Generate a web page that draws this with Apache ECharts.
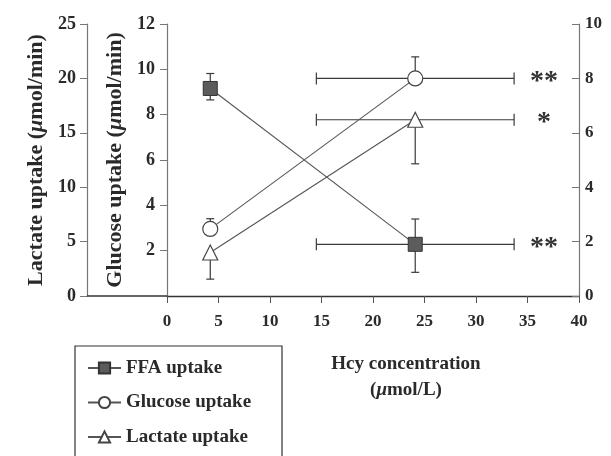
<!DOCTYPE html>
<html>
<head>
<meta charset="utf-8">
<script src="https://cdn.jsdelivr.net/npm/echarts@6/dist/echarts.min.js"></script>
<style>html,body{margin:0;padding:0;background:#fff}#c{width:611px;height:456px}</style>
</head>
<body>
<div id="c"></div>
<script>
// ---- data ----
var hcyX = [4.2, 24.1];            // Hcy concentration (µmol/L)
var hcyXErr = [0, 9.6];            // horizontal SD
var ffa = [7.63, 1.9];             // right axis
var ffaErrUp = [0.55, 0.93];
var ffaErrDown = [0.42, 1.03];
var glucose = [2.96, 9.6];         // glucose axis
var glucoseErrUp = [0.45, 0.95];
var glucoseErrDown = [0, 0];
var lactate = [4.0, 16.2];         // lactate axis
var lactateErrUp = [0, 0];
var lactateErrDown = [2.45, 4.05];
var ffaSig = ['', '**'];
var glucoseSig = ['', '**'];
var lactateSig = ['', '*'];
var sigX = 36.6;
var xTicks = {min: 0, max: 40, interval: 5};
var glucoseTicks = {min: 0, max: 12, interval: 2};
var lactateTicks = {min: 0, max: 25, interval: 5};
var ffaTicks = {min: 0, max: 10, interval: 2};

var FONT = '"Liberation Serif", "Times New Roman", serif';
var TXT = '#2a2a2a';
var LINE = '#555';
var ERR = '#3a3a3a';

function pairs(ys) { return hcyX.map(function (x, i) { return [x, ys[i]]; }); }
function errData(ys, up, down, sig) {
  return hcyX.map(function (x, i) { return [x, ys[i], up[i], down[i], hcyXErr[i], sig[i]]; });
}
function renderErr(params, api) {
  var x = api.value(0), y = api.value(1), up = api.value(2), dn = api.value(3), xe = api.value(4);
  var sig = api.value(5);
  var c = api.coord([x, y]);
  var st = {stroke: ERR, lineWidth: 1.2};
  var kids = [];
  var capW = 4, capH = 6;
  if (up > 0) {
    var t = api.coord([x, y + up]);
    kids.push({type: 'line', shape: {x1: c[0], y1: c[1], x2: t[0], y2: t[1]}, style: st});
    kids.push({type: 'line', shape: {x1: t[0] - capW, y1: t[1], x2: t[0] + capW, y2: t[1]}, style: st});
  }
  if (dn > 0) {
    var b = api.coord([x, y - dn]);
    kids.push({type: 'line', shape: {x1: c[0], y1: c[1], x2: b[0], y2: b[1]}, style: st});
    kids.push({type: 'line', shape: {x1: b[0] - capW, y1: b[1], x2: b[0] + capW, y2: b[1]}, style: st});
  }
  if (xe > 0) {
    var l = api.coord([x - xe, y]), r = api.coord([x + xe, y]);
    kids.push({type: 'line', shape: {x1: l[0], y1: l[1], x2: r[0], y2: r[1]}, style: st});
    kids.push({type: 'line', shape: {x1: l[0], y1: l[1] - capH, x2: l[0], y2: l[1] + capH}, style: st});
    kids.push({type: 'line', shape: {x1: r[0], y1: r[1] - capH, x2: r[0], y2: r[1] + capH}, style: st});
  }
  if (sig) {
    var s = api.coord([sigX, y]);
    kids.push({type: 'text', style: {text: sig, x: s[0], y: s[1] + 3, align: 'center', verticalAlign: 'middle',
      font: 'bold 28px ' + FONT, fill: '#333'}});
  }
  return {type: 'group', children: kids};
}

var yLbl = {fontFamily: FONT, fontWeight: 'bold', fontSize: 18, color: TXT};
var xLbl = {fontFamily: FONT, fontWeight: 'bold', fontSize: 17, color: TXT};
var nameRich = {i: {fontFamily: FONT, fontStyle: 'italic', fontWeight: 'bold', fontSize: 22, color: TXT}};

var chart = echarts.init(document.getElementById('c'), null, {renderer: 'canvas'});
chart.setOption({
  animation: false,
  backgroundColor: '#fff',
  title: {
    text: 'Hcy concentration\n({i|μ}mol/L)',
    left: 401, top: 346, textAlign: 'center',
    textStyle: {fontFamily: FONT, fontWeight: 'bold', fontSize: 19, color: TXT, lineHeight: 26,
      rich: {i: {fontFamily: FONT, fontStyle: 'italic', fontWeight: 'bold', fontSize: 19, color: TXT, lineHeight: 26}}}
  },
  legend: {
    orient: 'vertical', left: 75, top: 346, height: 140,
    padding: [12, 30, 12, 12],
    itemWidth: 33, itemHeight: 14, itemGap: 14.5,
    textStyle: {fontFamily: FONT, fontWeight: 'bold', fontSize: 19, color: TXT, lineHeight: 20},
    data: ['FFA uptake', 'Glucose uptake', 'Lactate uptake']
  },
  grid: {left: 167, right: 32, top: 24, bottom: 160},
  xAxis: {
    type: 'value', min: xTicks.min, max: xTicks.max, interval: xTicks.interval,
    axisLine: {lineStyle: {color: '#333', width: 1.3}},
    axisTick: {length: 7, lineStyle: {color: '#555'}},
    axisLabel: Object.assign({margin: 17}, xLbl),
    splitLine: {show: false}
  },
  yAxis: [
    {
      type: 'value', position: 'left', offset: 0,
      min: glucoseTicks.min, max: glucoseTicks.max, interval: glucoseTicks.interval,
      name: 'Glucose uptake ({i|μ}mol/min)', nameLocation: 'middle', nameGap: 40,
      nameTextStyle: {fontFamily: FONT, fontWeight: 'bold', fontSize: 22, color: TXT, rich: nameRich},
      axisLine: {show: true, lineStyle: {color: '#777', width: 1.2}},
      axisTick: {show: true, length: 7, lineStyle: {color: '#777'}},
      axisLabel: Object.assign({margin: 12, showMinLabel: false}, yLbl),
      splitLine: {show: false}
    },
    {
      type: 'value', position: 'left', offset: 80,
      min: lactateTicks.min, max: lactateTicks.max, interval: lactateTicks.interval,
      name: 'Lactate uptake ({i|μ}mol/min)', nameLocation: 'middle', nameGap: 36,
      nameTextStyle: {fontFamily: FONT, fontWeight: 'bold', fontSize: 22, color: TXT, rich: nameRich},
      axisLine: {show: true, lineStyle: {color: '#777', width: 1.2}},
      axisTick: {show: true, length: 7, lineStyle: {color: '#777'}},
      axisLabel: Object.assign({margin: 11}, yLbl),
      splitLine: {show: false}
    },
    {
      type: 'value', position: 'right', offset: 0,
      min: ffaTicks.min, max: ffaTicks.max, interval: ffaTicks.interval,
      axisLine: {show: true, lineStyle: {color: '#777', width: 1.2}},
      axisTick: {show: true, inside: true, length: 7, lineStyle: {color: '#777'}},
      axisLabel: Object.assign({margin: 6}, xLbl),
      splitLine: {show: false}
    }
  ],
  graphic: [
    {type: 'line', shape: {x1: 87, y1: 296, x2: 167, y2: 296},
      style: {stroke: '#333', lineWidth: 1.3}, z: 5},
    {type: 'rect', shape: {x: 75, y: 346, width: 207, height: 130},
      style: {fill: null, stroke: '#333', lineWidth: 1.2}, z: 5}
  ],
  series: [
    {type: 'custom', name: 'ffaErr', yAxisIndex: 2, z: 2, renderItem: renderErr,
      data: errData(ffa, ffaErrUp, ffaErrDown, ffaSig), silent: true},
    {type: 'custom', name: 'glucoseErr', yAxisIndex: 0, z: 2, renderItem: renderErr,
      data: errData(glucose, glucoseErrUp, glucoseErrDown, glucoseSig), silent: true},
    {type: 'custom', name: 'lactateErr', yAxisIndex: 1, z: 2, renderItem: renderErr,
      data: errData(lactate, lactateErrUp, lactateErrDown, lactateSig), silent: true},
    {type: 'line', name: 'FFA uptake', yAxisIndex: 2, z: 3, data: pairs(ffa),
      symbol: 'rect', symbolSize: 14,
      lineStyle: {color: LINE, width: 1.1},
      itemStyle: {color: '#5c5c5c', borderColor: '#333', borderWidth: 1}},
    {type: 'line', name: 'Glucose uptake', yAxisIndex: 0, z: 3, data: pairs(glucose),
      symbol: 'circle', symbolSize: 15,
      lineStyle: {color: LINE, width: 1.1},
      itemStyle: {color: '#fff', borderColor: '#444', borderWidth: 1.2}},
    {type: 'line', name: 'Lactate uptake', yAxisIndex: 1, z: 3, data: pairs(lactate),
      symbol: 'triangle', symbolSize: 15,
      lineStyle: {color: LINE, width: 1.1},
      itemStyle: {color: '#fff', borderColor: '#444', borderWidth: 1.2}}
  ]
});
</script>
</body>
</html>
